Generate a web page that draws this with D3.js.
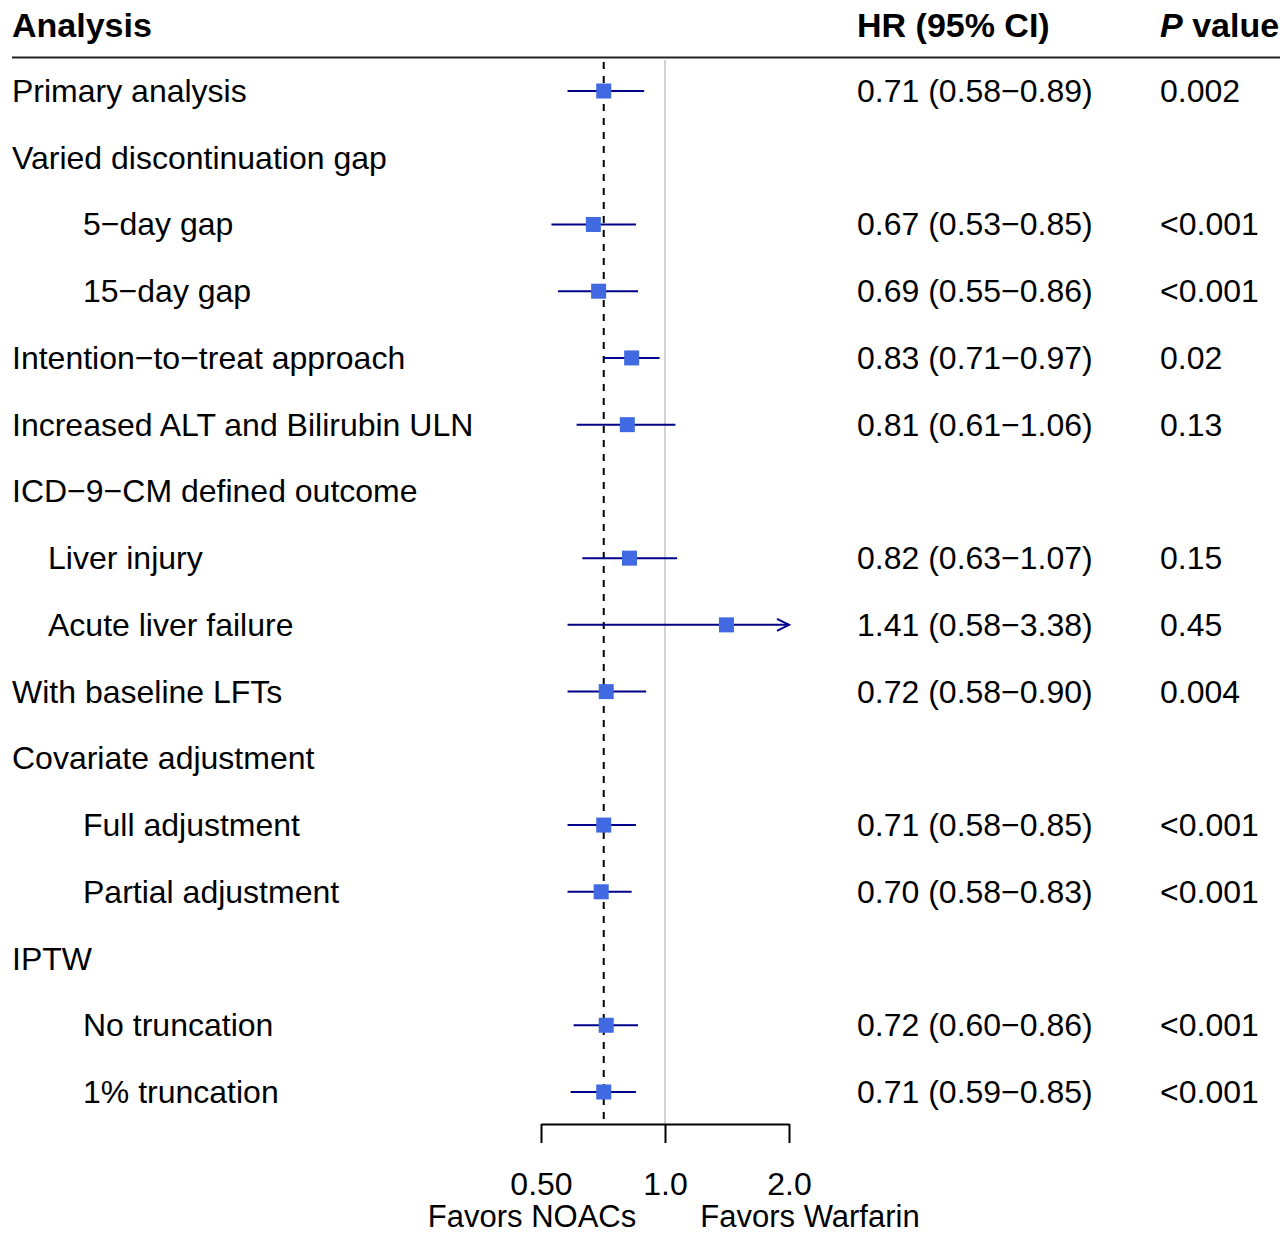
<!DOCTYPE html>
<html><head><meta charset="utf-8">
<script src="https://cdn.jsdelivr.net/npm/d3@7"></script>
<style>body{margin:0;background:#fff}svg{display:block}text{font-family:"Liberation Sans",Arial,sans-serif}</style>
</head><body>
<script>
const labels = ["Primary analysis","Varied discontinuation gap","5\u2212day gap","15\u2212day gap","Intention\u2212to\u2212treat approach","Increased ALT and Bilirubin ULN","ICD\u22129\u2212CM defined outcome","Liver injury","Acute liver failure","With baseline LFTs","Covariate adjustment","Full adjustment","Partial adjustment","IPTW","No truncation","1% truncation"];
const indent = [0,0,2,2,0,0,0,1,1,0,0,2,2,0,2,2];
const hr =   [0.71,null,0.67,0.69,0.83,0.81,null,0.82,1.41,0.72,null,0.71,0.70,null,0.72,0.71];
const lo =   [0.58,null,0.53,0.55,0.71,0.61,null,0.63,0.58,0.58,null,0.58,0.58,null,0.60,0.59];
const hi =   [0.89,null,0.85,0.86,0.97,1.06,null,1.07,3.38,0.90,null,0.85,0.83,null,0.86,0.85];
const pvals = ["0.002","","<0.001","<0.001","0.02","0.13","","0.15","0.45","0.004","","<0.001","<0.001","","<0.001","<0.001"];
const tickVals = [0.5,1.0,2.0];
const tickLabels = ["0.50","1.0","2.0"];
const summaryHR = 0.71;

const W=1284,H=1236;
const svg=d3.select("body").append("svg").attr("width",W).attr("height",H);
const x=d3.scaleLog().domain([0.5,2.0]).range([541,789]);
const y=d3.scaleLinear().domain([0,15]).range([91,1092]);
const fs=32, hfs=34;

// header
svg.append("text").attr("x",12).attr("y",37).attr("font-size",hfs).attr("font-weight","bold").text("Analysis");
svg.append("text").attr("x",857).attr("y",37).attr("font-size",hfs).attr("font-weight","bold").text("HR (95% CI)");
const pv=svg.append("text").attr("x",1160).attr("y",37).attr("font-size",hfs).attr("font-weight","bold");
pv.append("tspan").attr("font-style","italic").text("P");
pv.append("tspan").text(" value");
svg.append("line").attr("x1",12).attr("x2",1280).attr("y1",57.5).attr("y2",57.5).attr("stroke","#222").attr("stroke-width",2);

// reference lines
svg.append("line").attr("x1",x(1)).attr("x2",x(1)).attr("y1",60).attr("y2",1124).attr("stroke","#d3d3d3").attr("stroke-width",2);
svg.append("line").attr("x1",x(summaryHR)).attr("x2",x(summaryHR)).attr("y1",62).attr("y2",1124).attr("stroke","#000").attr("stroke-width",2).attr("stroke-dasharray","7,7");

// rows
const idxX=[12,48,83];
labels.forEach((l,i)=>{
  svg.append("text").attr("x",idxX[indent[i]]).attr("y",y(i)+11).attr("font-size",fs).text(l);
  if(hr[i]!=null){
    svg.append("text").attr("x",857).attr("y",y(i)+11).attr("font-size",fs)
      .text(hr[i].toFixed(2)+" ("+lo[i].toFixed(2)+"\u2212"+hi[i].toFixed(2)+")");
    svg.append("text").attr("x",1160).attr("y",y(i)+11).attr("font-size",fs).text(pvals[i]);
    const clip = hi[i]>2.0;
    const x2 = clip? x(2.0): x(hi[i]);
    svg.append("line").attr("x1",x(lo[i])).attr("x2",x2).attr("y1",y(i)).attr("y2",y(i)).attr("stroke","#00008B").attr("stroke-width",2);
    if(clip){
      svg.append("path").attr("d",`M${x2-12},${y(i)-6}L${x2},${y(i)}L${x2-12},${y(i)+6}`).attr("fill","none").attr("stroke","#00008B").attr("stroke-width",2);
    }
    svg.append("rect").attr("x",x(hr[i])-7.5).attr("y",y(i)-7.5).attr("width",15).attr("height",15).attr("fill","#4169E1");
  }
});

// axis
const ax=svg.append("g").attr("transform","translate(0,1124)")
  .call(d3.axisBottom(x).tickValues(tickVals).tickFormat((d,i)=>tickLabels[i]).tickSize(19).tickSizeOuter(0));
ax.select(".domain").attr("stroke","#000").attr("stroke-width",2);
ax.selectAll(".tick line").attr("stroke","#000").attr("stroke-width",2);
ax.selectAll(".tick text").attr("font-size",fs).attr("font-family","Liberation Sans, Arial, sans-serif").attr("fill","#000").attr("dy",0).attr("y",71);
svg.append("text").attr("x",532).attr("y",1227).attr("text-anchor","middle").attr("font-size",31).text("Favors NOACs");
svg.append("text").attr("x",810).attr("y",1227).attr("text-anchor","middle").attr("font-size",31).text("Favors Warfarin");
</script>
</body></html>
